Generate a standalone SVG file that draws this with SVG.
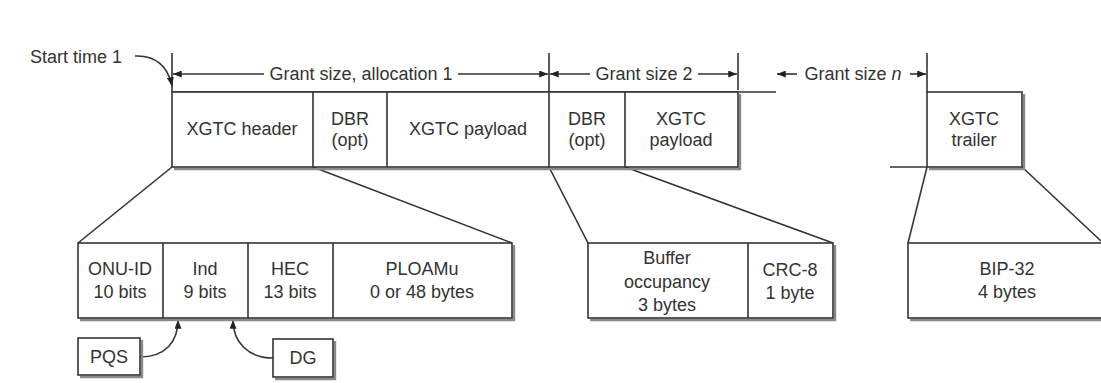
<svg xmlns="http://www.w3.org/2000/svg" width="1101" height="383" viewBox="0 0 1101 383">
  <style>
    text { font-family: "Liberation Sans", Arial, sans-serif; font-size: 18px; fill: #333; text-anchor: middle; }
    .box { fill: #fff; stroke: #333; stroke-width: 1.6; }
    .shadow { fill: none; stroke: #8a8a8a; stroke-width: 2.4; }
    .ln { fill: none; stroke: #333; stroke-width: 1.6; }
    .arr { fill: none; stroke: #333; stroke-width: 1.6; marker-end: url(#head); }
  </style>
  <defs>
    <marker id="head" viewBox="0 0 10 8" refX="10" refY="4" markerWidth="9" markerHeight="7" markerUnits="userSpaceOnUse" orient="auto">
      <path d="M0,0 L10,4 L0,8 Z" fill="#222"/>
    </marker>
  </defs>
  <rect width="1101" height="383" fill="#fff"/>

  <!-- connectors: grant spans, zoom-out lines, pointers -->
  <g id="connectors">
    <!-- grant span ticks -->
    <line class="ln" x1="172" y1="53" x2="172" y2="92"/>
    <line class="ln" x1="549" y1="53" x2="549" y2="92"/>
    <line class="ln" x1="738" y1="53" x2="738" y2="90"/>
    <line class="ln" x1="927" y1="53" x2="927" y2="92"/>
    <!-- grant span arrows -->
    <line class="arr" x1="264" y1="74" x2="173" y2="74"/>
    <line class="arr" x1="458" y1="74" x2="548" y2="74"/>
    <line class="arr" x1="590" y1="74" x2="550" y2="74"/>
    <line class="arr" x1="698" y1="74" x2="737" y2="74"/>
    <line class="arr" x1="797" y1="74" x2="777" y2="74"/>
    <line class="arr" x1="910" y1="74" x2="926" y2="74"/>
    <!-- start time pointer -->
    <path class="arr" d="M135,56 C155,55 168,66 172,86"/>
    <!-- expansion lines -->
    <line class="ln" x1="172" y1="167" x2="78" y2="243"/>
    <line class="ln" x1="313" y1="167" x2="512" y2="243"/>
    <line class="ln" x1="549" y1="167" x2="588" y2="243"/>
    <line class="ln" x1="625" y1="167" x2="833" y2="243"/>
    <line class="ln" x1="927" y1="167" x2="908" y2="243"/>
    <line class="ln" x1="1022" y1="167" x2="1101" y2="241"/>
    <!-- PQS / DG pointers into the Ind field -->
    <path class="arr" d="M140,357 C165,357 178,342 178,320"/>
    <path class="arr" d="M273,358 C248,358 233,342 233,320"/>
  </g>

  <g id="labels-grant">
    <text x="76" y="63">Start time 1</text>
    <text x="361" y="80">Grant size, allocation 1</text>
    <text x="644" y="80">Grant size 2</text>
    <text x="853" y="80">Grant size <tspan font-style="italic">n</tspan></text>
  </g>

  <!-- downstream frame row -->
  <g id="frame-row">
    <line class="ln" x1="172" y1="92" x2="776" y2="92"/>
    <polyline class="shadow" points="740,94 740,169 174,169"/>
    <rect class="box" x="172" y="92" width="566" height="75" fill="#fff"/>
    <line class="ln" x1="313" y1="92" x2="313" y2="167"/>
    <line class="ln" x1="387" y1="92" x2="387" y2="167"/>
    <line class="ln" x1="549" y1="92" x2="549" y2="167"/>
    <line class="ln" x1="625" y1="92" x2="625" y2="167"/>
  </g>
  <g id="xgtc-header"><text x="242" y="135">XGTC header</text></g>
  <g id="dbr-1"><text x="350" y="125">DBR</text><text x="350" y="146">(opt)</text></g>
  <g id="xgtc-payload-1"><text x="468" y="135">XGTC payload</text></g>
  <g id="dbr-2"><text x="587" y="125">DBR</text><text x="587" y="146">(opt)</text></g>
  <g id="xgtc-payload-2"><text x="681" y="125">XGTC</text><text x="681" y="146">payload</text></g>

  <g id="xgtc-trailer">
    <line class="ln" x1="890" y1="167" x2="927" y2="167"/>
    <polyline class="shadow" points="1024,94 1024,169 929,169"/>
    <rect class="box" x="927" y="92" width="95" height="75"/>
    <text x="974" y="125">XGTC</text>
    <text x="974" y="146">trailer</text>
  </g>

  <!-- header fields -->
  <g id="header-fields">
    <polyline class="shadow" points="514,245 514,320 80,320"/>
    <rect class="box" x="78" y="243" width="434" height="75"/>
    <line class="ln" x1="163" y1="243" x2="163" y2="318"/>
    <line class="ln" x1="248" y1="243" x2="248" y2="318"/>
    <line class="ln" x1="333" y1="243" x2="333" y2="318"/>
  </g>
  <g id="onu-id"><text x="120" y="275">ONU-ID</text><text x="120" y="298">10 bits</text></g>
  <g id="ind"><text x="205" y="275">Ind</text><text x="205" y="298">9 bits</text></g>
  <g id="hec"><text x="290" y="275">HEC</text><text x="290" y="298">13 bits</text></g>
  <g id="ploamu"><text x="422" y="275">PLOAMu</text><text x="422" y="298">0 or 48 bytes</text></g>

  <!-- DBR fields -->
  <g id="dbr-fields">
    <polyline class="shadow" points="835,245 835,320 590,320"/>
    <rect class="box" x="588" y="243" width="245" height="75"/>
    <line class="ln" x1="748" y1="243" x2="748" y2="318"/>
  </g>
  <g id="buffer-occupancy">
    <text x="667" y="264">Buffer</text>
    <text x="667" y="288">occupancy</text>
    <text x="667" y="311">3 bytes</text>
  </g>
  <g id="crc-8"><text x="790" y="276">CRC-8</text><text x="790" y="299">1 byte</text></g>

  <!-- trailer field -->
  <g id="bip-32">
    <polyline class="shadow" points="910,320 1105,320"/>
    <rect class="box" x="908" y="243" width="200" height="75"/>
    <text x="1007" y="275">BIP-32</text>
    <text x="1007" y="298">4 bytes</text>
  </g>

  <g id="pqs">
    <polyline class="shadow" points="142,340 142,377 80,377"/>
    <rect class="box" x="78" y="338" width="62" height="37"/>
    <text x="109" y="363">PQS</text>
  </g>
  <g id="dg">
    <polyline class="shadow" points="335,341 335,379 275,379"/>
    <rect class="box" x="273" y="339" width="60" height="38"/>
    <text x="303" y="364">DG</text>
  </g>
</svg>
